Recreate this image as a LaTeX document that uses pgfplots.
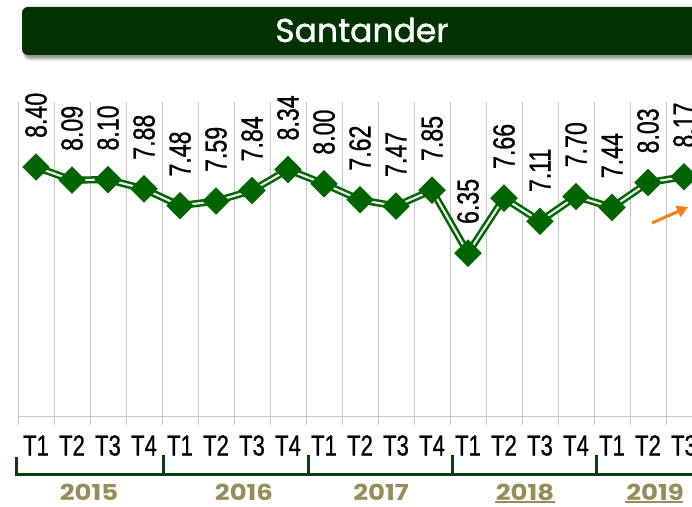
\documentclass[border=0pt]{standalone}
\usepackage{fontspec}
\setmainfont{Liberation Sans}
\newfontfamily\labfont[FakeBold=1]{Liberation Sans}
\newfontfamily\titlefont[FakeBold=1.2]{Poppins}
\newfontfamily\yearfont{Poppins}
\usepackage{graphicx}
\usepackage{pgfplots}
\usepackage{pgfplotstable}
\pgfplotsset{compat=1.18}
\usetikzlibrary{arrows.meta,shadows.blur}
\definecolor{titlegreen}{HTML}{003300}
\definecolor{lgreen}{HTML}{006400}
\definecolor{brgreen}{HTML}{0B3B0B}
\definecolor{yearcol}{HTML}{968C5A}
\definecolor{gridgray}{HTML}{C4C4C4}
\definecolor{arroworange}{HTML}{F7801E}
\newcommand{\sq}[1]{\scalebox{0.76}[1]{#1}}

\pgfplotstableread{
x y lab
0 8.40 8.40
1 8.09 8.09
2 8.10 8.10
3 7.88 7.88
4 7.48 7.48
5 7.59 7.59
6 7.84 7.84
7 8.34 8.34
8 8.00 8.00
9 7.62 7.62
10 7.47 7.47
11 7.85 7.85
12 6.35 6.35
13 7.66 7.66
14 7.11 7.11
15 7.70 7.70
16 7.44 7.44
17 8.03 8.03
18 8.17 8.17
}\datatable

\begin{document}
\begin{tikzpicture}
\useasboundingbox (0,0) rectangle (692pt,506pt);
\clip (0,0) rectangle (692pt,506pt);
% title bar
\fill[titlegreen, rounded corners=6pt, blur shadow={shadow xshift=2pt, shadow yshift=-4pt, shadow blur steps=8, shadow opacity=40}] (22pt,451pt) rectangle (740pt,499pt);
\node[text=white, anchor=base, inner sep=0pt, font=\titlefont\fontsize{33}{33}\selectfont] at (362pt,464pt) {Santander};

\begin{axis}[
  at={(18pt,90pt)}, anchor=south west,
  scale only axis, width=684pt, height=314pt,
  xmin=-0.5, xmax=18.5, ymin=2.47, ymax=9.95,
  axis x line*=bottom, axis y line=none,
  x axis line style={color=gridgray, line width=0.9pt, -},
  xtick={0,...,18},
  xticklabels={\sq{T1},\sq{T2},\sq{T3},\sq{T4},\sq{T1},\sq{T2},\sq{T3},\sq{T4},\sq{T1},\sq{T2},\sq{T3},\sq{T4},\sq{T1},\sq{T2},\sq{T3},\sq{T4},\sq{T1},\sq{T2},\sq{T3}},
  minor xtick={-0.5,0.5,...,18.5},
  tick align=outside,
  major tick length=0pt,
  minor tick length=9pt,
  minor tick style={color=gridgray, line width=0.9pt},
  xminorgrids,
  minor grid style={color=gridgray, line width=0.9pt},
  xticklabel style={font=\labfont\fontsize{29}{29}\selectfont, anchor=base, yshift=-39.5pt, inner sep=0pt},
  clip=false,
]
\addplot[draw=lgreen, line width=2.5pt, double=white!85!gray, double distance=2.2pt, mark=none]
  table[x=x, y=y]{\datatable};
\addplot[only marks, mark=square*, mark size=9.5pt,
  mark options={rotate=45, fill=lgreen, draw=lgreen, line width=0.3pt},
  nodes near coords={\sq{\pgfplotspointmeta}},
  point meta=explicit symbolic,
  every node near coord/.append style={rotate=90, anchor=west, inner xsep=29pt, inner ysep=0pt, text=black, font=\labfont\fontsize{30.5}{30.5}\selectfont}]
  table[x=x, y=y, meta=lab]{\datatable};
\end{axis}

% arrow
\draw[arroworange, line width=3pt, -{Triangle[length=11pt, width=12pt]}] (652pt,283pt) -- (688pt,299pt);

% year brackets
\draw[brgreen, line width=3pt] (15pt,32pt) -- (700pt,32pt);
\draw[brgreen, line width=3pt] (16.5pt,32pt) -- (16.5pt,49pt);
\foreach \xx in {163,308,452,596}{
  \draw[brgreen, line width=3pt] (\xx pt,32pt) -- (\xx pt,51pt);
}
% years
\foreach \xx/\yy in {89/2015,244/2016,381/2017,525/2018,655/2019}{
  \node[text=yearcol, anchor=base, inner sep=0pt, font=\yearfont\bfseries\fontsize{22}{22}\selectfont] at (\xx pt,6pt) {\scalebox{1.18}[1]{\yy}};
}
\draw[yearcol, line width=2pt] (495pt,4pt) -- (555pt,4pt);
\draw[yearcol, line width=2pt] (625pt,4pt) -- (683pt,4pt);
\end{tikzpicture}
\end{document}
